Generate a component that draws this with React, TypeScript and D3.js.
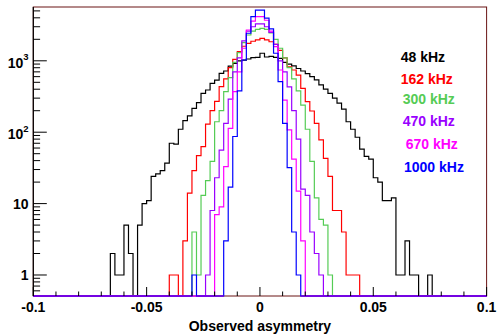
import React from 'react';
import * as d3 from 'd3';

// ---- data ----
const X_MIN = -0.1;
const X_MAX = 0.1;
const N_BINS = 100;
const xTickValues = [-0.1, -0.05, 0, 0.05, 0.1];
const xTickLabels = ['-0.1', '-0.05', '0', '0.05', '0.1'];
const yMajorTicks = [1, 10, 100, 1000];
const yTickBase = ['1', '10', '10', '10'];
const yTickExp = ['', '', '2', '3'];
const xTitle = 'Observed asymmetry';

const seriesNames = ['48 kHz', '162 kHz', '300 kHz', '470 kHz', '670 kHz', '1000 kHz'];
const seriesColors = ['#000000', '#ff0000', '#55cc55', '#9900ff', '#ff00ff', '#0000ff'];
const seriesStartBin = [17, 30, 35, 38, 40, 35];

const counts48 = [2, 1, 1, 5, 2, 0, 5, 10, 11, 24, 26, 29, 37, 70, 68, 110, 145, 169, 216, 259,
  350, 390, 484, 538, 668, 720, 840, 923, 1000, 1020, 1060, 1110, 1120, 1275, 1130, 1150, 1120,
  1080, 950, 900, 850, 780, 720, 660, 600, 540, 460, 400, 350, 300, 255, 210, 140, 110, 85, 58,
  46, 42, 23, 20, 11, 11, 12, 1, 1, 3, 1, 1, 0, 0, 1];
const counts162 = [1, 1, 0, 3, 14, 29, 47, 63, 130, 200, 270, 434, 560, 800, 1050, 1350, 1600,
  1760, 1880, 1960, 2060, 1960, 1850, 1700, 1400, 1100, 826, 743, 632, 412, 268, 198, 133, 78,
  43, 24, 8, 8, 4, 1, 1, 1];
const counts300 = [4, 1, 13, 21, 39, 140, 200, 370, 580, 950, 1300, 1800, 2300, 2600, 2750, 2850,
  2750, 2450, 2000, 1500, 1100, 800, 560, 380, 240, 110, 39, 12, 6, 5, 1];
const counts470 = [1, 8, 23, 56, 133, 290, 700, 1100, 1900, 2600, 3000, 3300, 3300, 3000, 2500,
  1700, 1000, 700, 430, 200, 80, 16, 13, 4, 2, 1];
const counts670 = [7, 9, 33, 113, 369, 700, 1500, 2700, 3600, 4150, 4150, 3700, 2600, 1580, 743,
  282, 108, 42, 15, 3];
const counts1000 = [1, 0, 0, 0, 0, 0, 0, 3, 17, 87, 380, 1026, 2430, 4150, 5140, 5140, 3950, 2800,
  1275, 510, 133, 32, 4, 1];

const seriesCounts = [counts48, counts162, counts300, counts470, counts670, counts1000];

// ---- layout ----
const W = 497;
const H = 335;
const left = 33.3;
const right = 486.6;
const top = 7;
const bottom = 296;
const FONT = '"Liberation Sans", Arial, Helvetica, sans-serif';
const legendX = [400.7, 400.7, 402.7, 402.7, 405.7, 404];
const legendY = [61.5, 84, 104, 125.7, 149, 171.5];

const x = d3.scaleLinear().domain([X_MIN, X_MAX]).range([left, right]);
const y = d3.scaleLog().domain([0.508, 5670]).range([bottom, top]);
const BW = (X_MAX - X_MIN) / N_BINS;

function fullCounts(i: number): number[] {
  const full = new Array(N_BINS).fill(0);
  seriesCounts[i].forEach((c, j) => { full[seriesStartBin[i] + j] = c; });
  return full;
}

function histPath(full: number[]): string {
  const p = d3.path();
  for (let k = 0; k < N_BINS; k++) {
    const x0 = x(X_MIN + k * BW);
    const x1 = x(X_MIN + (k + 1) * BW);
    const yv = full[k] > 0 ? Math.min(bottom, y(full[k])) : bottom;
    if (k === 0) p.moveTo(x0, yv); else p.lineTo(x0, yv);
    p.lineTo(x1, yv);
  }
  return p.toString();
}

export default function App() {
  const fulls = seriesCounts.map((_, i) => fullCounts(i));
  const lastFull = fulls[fulls.length - 1];

  const yMinor: number[] = [];
  for (let e = -1; e <= 3; e++) {
    for (let m = 2; m <= 9; m++) {
      const v = m * Math.pow(10, e);
      if (v >= 0.508 && v <= 5670) yMinor.push(v);
    }
  }
  const xTicks: { v: number; major: boolean }[] = [];
  for (let i = 0; i <= 20; i++) {
    const v = -0.1 + i * 0.01;
    xTicks.push({ v, major: i % 5 === 0 });
  }
  const zeroRuns: [number, number][] = [];
  let runStart = -1;
  for (let k = 0; k <= N_BINS; k++) {
    const z = k < N_BINS && lastFull[k] === 0;
    if (z && runStart < 0) runStart = k;
    if (!z && runStart >= 0) { zeroRuns.push([runStart, k]); runStart = -1; }
  }

  return (
    <svg width={W} height={H} style={{ position: 'absolute', left: 0, top: 0, background: '#fff' }}
      xmlns="http://www.w3.org/2000/svg">
      <defs>
        <clipPath id="plot">
          <rect x={left - 1} y={top} width={right - left + 2} height={bottom - top + 1} />
        </clipPath>
      </defs>
      <rect x={0} y={0} width={W} height={H} fill="#fff" />
      <rect x={left} y={top} width={right - left} height={bottom - top} fill="none" stroke="#6a1414" strokeWidth={1} />
      <g clipPath="url(#plot)">
        {fulls.map((f, i) => (
          <path key={i} d={histPath(f)} fill="none" stroke={seriesColors[i]} strokeWidth={1.2} />
        ))}
        {zeroRuns.map(([a, b], i) => (
          <line key={i} x1={x(X_MIN + a * BW)} x2={x(X_MIN + b * BW)} y1={bottom} y2={bottom}
            stroke="#7a00e0" strokeWidth={1.5} />
        ))}
      </g>
      <line x1={left} x2={left} y1={top} y2={bottom} stroke="#000" strokeWidth={1.2} />
      {yMajorTicks.map((v, i) => (
        <line key={'ym' + i} x1={left} x2={left + 13.5} y1={y(v)} y2={y(v)} stroke="#000" strokeWidth={1} />
      ))}
      {yMinor.map((v, i) => (
        <line key={'yn' + i} x1={left} x2={left + 6.8} y1={y(v)} y2={y(v)} stroke="#000" strokeWidth={1} />
      ))}
      {yMajorTicks.map((v, i) => (
        <text key={'yl' + i} x={28.5} y={y(v) + (yTickExp[i] ? 7 : 5.2)} textAnchor="end"
          fontFamily={FONT} fontWeight="bold" fontSize={14} fill="#000">
          {yTickBase[i]}
          {yTickExp[i] ? <tspan fontSize={9.5} dy={-7.5}>{yTickExp[i]}</tspan> : null}
        </text>
      ))}
      {xTicks.map((t, i) => (
        <line key={'xt' + i} x1={x(t.v)} x2={x(t.v)} y1={bottom} y2={bottom - (t.major ? 9 : 4.5)}
          stroke="#000" strokeWidth={1} />
      ))}
      {xTickValues.map((v, i) => (
        <text key={'xl' + i} x={x(v)} y={311.5} textAnchor="middle" fontFamily={FONT}
          fontWeight="bold" fontSize={14} fill="#000">{xTickLabels[i]}</text>
      ))}
      <text x={x(0)} y={331} textAnchor="middle" fontFamily={FONT} fontWeight="bold" fontSize={14} fill="#000">
        {xTitle}
      </text>
      {seriesNames.map((n, i) => (
        <text key={'lg' + i} x={legendX[i]} y={legendY[i]} fontFamily={FONT} fontWeight="bold"
          fontSize={14} fill={seriesColors[i]}>{n}</text>
      ))}
    </svg>
  );
}
